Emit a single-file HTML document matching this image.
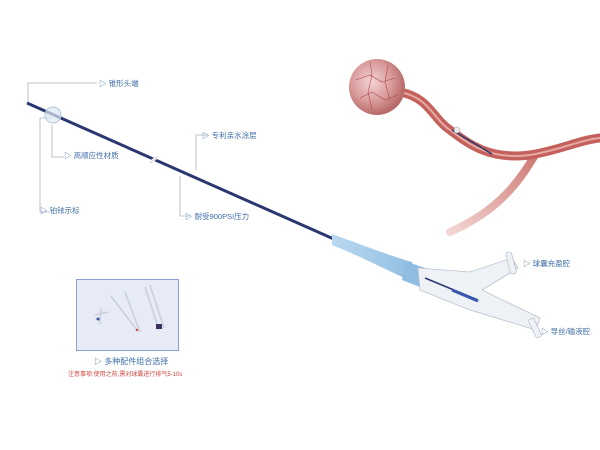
<!DOCTYPE html>
<html><head><meta charset="utf-8"><style>
body{margin:0;width:600px;height:450px;background:#fff;overflow:hidden}
svg{display:block}
text{font-family:"Liberation Sans","Noto Sans CJK SC",sans-serif}
</style></head><body>
<svg width="600" height="450" viewBox="0 0 600 450">
<defs>
<radialGradient id="an" cx="0.4" cy="0.4" r="0.6"><stop offset="0" stop-color="#f3d5d5"/><stop offset="0.6" stop-color="#d99a9a"/><stop offset="1" stop-color="#b86a6a"/></radialGradient>
<linearGradient id="sh" x1="0" y1="0" x2="1" y2="0"><stop offset="0" stop-color="#b9d8f0"/><stop offset="1" stop-color="#8fbde2"/></linearGradient>
<linearGradient id="br" x1="1" y1="0" x2="0" y2="1"><stop offset="0" stop-color="#cf7a74"/><stop offset="1" stop-color="#f3d6d3"/></linearGradient>
</defs>
<g stroke="#aab4c4" stroke-width="0.8" fill="none">
<polyline points="97,83 28,83 28,104"/>
<polyline points="40,118 40,212 50,212"/>
<polyline points="40,118 52,118"/>
<polyline points="52,125 52,157 64,157"/>
<polyline points="208,135 196,135 196,170"/>
<polyline points="180,176 180,216 190,216"/>
</g>
<line x1="27" y1="103" x2="336" y2="240" stroke="#2b3770" stroke-width="3"/>
<circle cx="53" cy="115" r="8" fill="#dbe8f2" fill-opacity="0.7" stroke="#b7c9d8" stroke-width="1"/>
<line x1="150" y1="163" x2="158" y2="156" stroke="#fff" stroke-width="3"/>
<line x1="150" y1="163" x2="158" y2="156" stroke="#aab" stroke-width="0.6"/>
<path d="M332,234 C360,244 390,256 412,262 L416,283 C390,272 360,256 332,245 Z" fill="url(#sh)"/>
<path d="M405,261 L425,268 L420,287 L402,280 Z" fill="#8fbde2"/>
<g fill="#eef2f6" stroke="#b8c2cc" stroke-width="0.8">
<path d="M418,268 L470,272 L512,258 L518,268 L482,290 L540,318 L536,330 L470,310 L420,290 Z"/>
<rect x="508" y="252" width="6" height="22" rx="2" transform="rotate(-15 511 263)"/>
<rect x="532" y="318" width="6" height="20" rx="2" transform="rotate(-25 535 328)"/>
</g>
<line x1="425" y1="278" x2="478" y2="300" stroke="#2b3770" stroke-width="1.5"/>
<line x1="452" y1="290" x2="478" y2="301" stroke="#3a56b0" stroke-width="3"/>
<g fill="none" stroke-linecap="round">
<path d="M535,155 C520,180 500,210 450,232" stroke="url(#br)" stroke-width="8"/>
<path d="M400,92 C430,98 432,118 450,130 C470,145 490,160 530,155 C560,150 580,140 600,138" stroke="#c4615c" stroke-width="9"/>
<path d="M400,92 C430,98 432,118 450,130 C470,145 490,160 530,155 C560,150 580,140 600,138" stroke="#e8a9a3" stroke-width="2"/>
</g>
<line x1="452" y1="130" x2="492" y2="154" stroke="#2b3770" stroke-width="1.5"/>
<circle cx="457" cy="130" r="3" fill="#eee" stroke="#999" stroke-width="0.5"/>
<circle cx="377" cy="87" r="28" fill="url(#an)"/>
<g stroke="#b14b4b" stroke-width="0.6" fill="none">
<path d="M356,80 L370,75 L382,82 L395,78"/><path d="M360,98 L372,92 L385,100 L398,95"/><path d="M370,62 L372,75 L368,92 L372,110"/><path d="M388,65 L385,82 L390,100"/>
</g>
<rect x="76.5" y="279.5" width="102" height="71" fill="#e7ebf5" stroke="#8aa0cf" stroke-width="1"/>
<g stroke="#c8cede" stroke-width="1.5" fill="none">
<path d="M95,315 L108,312 M101,308 L100,324"/>
<line x1="111" y1="296" x2="137" y2="330"/>
<line x1="125" y1="292" x2="140" y2="332"/>
<line x1="145" y1="287" x2="159" y2="330"/>
<line x1="150" y1="285" x2="164" y2="328"/>
</g>
<circle cx="98" cy="319" r="1.5" fill="#3a4fa0"/>
<rect x="156" y="324" width="6" height="5" fill="#3a3060"/>
<circle cx="137" cy="330" r="1.2" fill="#c44"/>
<g font-size="7.5" fill="#3f6ea6">
<text x="99" y="86">▷ 锥形头端</text>
<text x="64" y="158">▷ 高顺应性材质</text>
<text x="40" y="213">▷ 铂铱示标</text>
<text x="202" y="138">▷ 专利亲水涂层</text>
<text x="185" y="219">▷ 耐受900PSI压力</text>
<text x="523" y="266">▷ 球囊充盈腔</text>
<text x="541" y="334">▷ 导丝/输液腔</text>
<text x="94" y="364" font-size="8">▷ 多种配件组合选择</text>
</g>
<text x="68" y="376" font-size="6" fill="#d2443c">注意事项:使用之前,需对球囊进行排气5-10s</text>
</svg>
</body></html>
